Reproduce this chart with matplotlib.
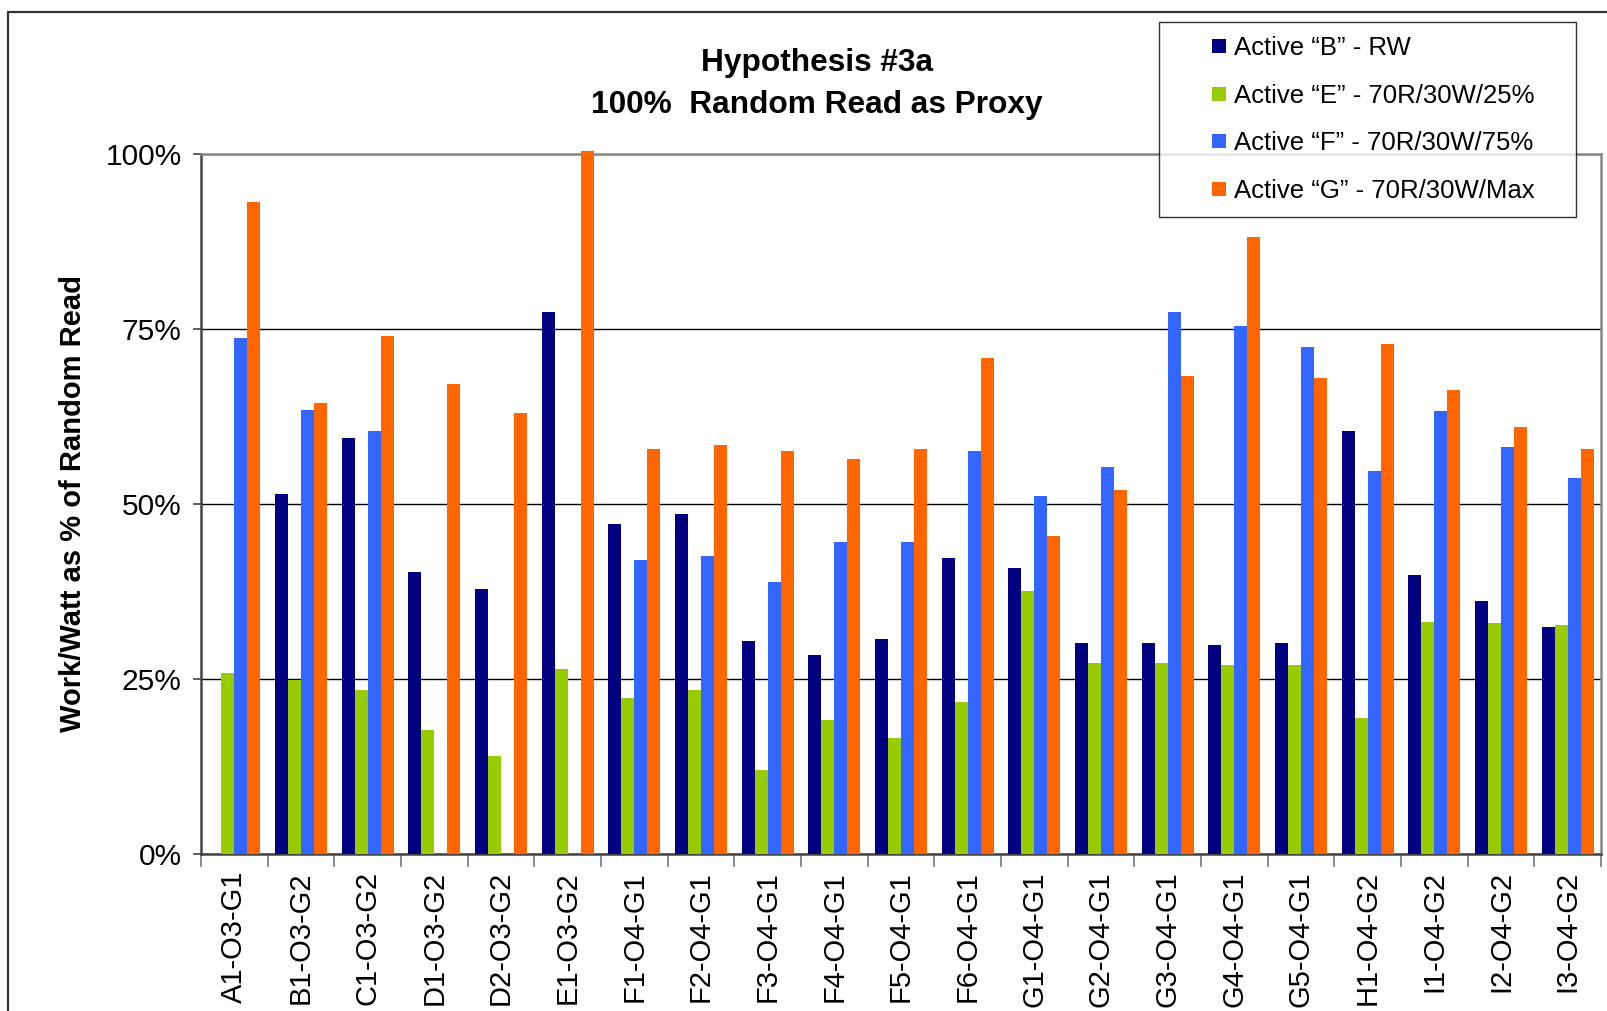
import numpy as np
import matplotlib
matplotlib.use("Agg")
import matplotlib.pyplot as plt
from matplotlib.lines import Line2D
from matplotlib.patches import Rectangle

plt.rcParams['font.family'] = ['Liberation Sans', 'DejaVu Sans']

## data (percent of random read)
labels = ['A1-O3-G1', 'B1-O3-G2', 'C1-O3-G2', 'D1-O3-G2', 'D2-O3-G2', 'E1-O3-G2',
          'F1-O4-G1', 'F2-O4-G1', 'F3-O4-G1', 'F4-O4-G1', 'F5-O4-G1', 'F6-O4-G1',
          'G1-O4-G1', 'G2-O4-G1', 'G3-O4-G1', 'G4-O4-G1', 'G5-O4-G1', 'H1-O4-G2',
          'I1-O4-G2', 'I2-O4-G2', 'I3-O4-G2']
nan = np.nan
active_b = [nan, 51.4, 59.5, 40.3, 37.8, 77.4, 47.1, 48.6, 30.4, 28.4, 30.7,
            42.3, 40.9, 30.2, 30.2, 29.8, 30.2, 60.4, 39.9, 36.1, 32.4]
active_e = [25.8, 24.9, 23.4, 17.7, 14.0, 26.4, 22.3, 23.4, 12.0, 19.1, 16.6,
            21.7, 37.6, 27.3, 27.3, 27.0, 27.0, 19.4, 33.2, 33.0, 32.7]
active_f = [73.7, 63.5, 60.4, nan, nan, nan, 42.0, 42.6, 38.8, 44.6, 44.6,
            57.6, 51.1, 55.3, 77.4, 75.4, 72.5, 54.7, 63.3, 58.1, 53.7]
active_g = [93.1, 64.4, 74.0, 67.1, 63.0, 100.5, 57.8, 58.4, 57.6, 56.4, 57.8,
            70.8, 45.4, 52.0, 68.3, 88.1, 68.0, 72.9, 66.3, 61.0, 57.8]
series_names = ['Active \u201cB\u201d - RW', 'Active \u201cE\u201d - 70R/30W/25%',
                'Active \u201cF\u201d - 70R/30W/75%', 'Active \u201cG\u201d - 70R/30W/Max']
colors = ['#000080', '#99CC00', '#3366FF', '#FF6600']
yticks = [0, 25, 50, 75, 100]

W, H = 1608, 1011
fig = plt.figure(figsize=(W/100, H/100), dpi=100)
ax = fig.add_axes([201/W, 1-854/H, 1400/W, 700/H])

## outer chart border (cut off at right and bottom)
fig.patches.append(Rectangle((8/W, -0.1), 1.2, 1-12/H+0.1, transform=fig.transFigure,
                             fill=False, edgecolor='#333333', linewidth=1.6))

x = np.arange(len(labels))
bw = 0.195
for k, (vals, c) in enumerate(zip([active_b, active_e, active_f, active_g], colors)):
    ax.bar(x + (k-1.5)*bw, vals, width=bw, color=c, linewidth=0, clip_on=False, zorder=3)

## axes config
ax.set_xlim(-0.5, len(labels)-0.5)
ax.set_ylim(0, 100)
ax.set_yticks(yticks)
ax.set_yticklabels([f'{v}%' for v in yticks], fontsize=21.5)
ax.tick_params(axis='y', direction='out', length=6, width=1.2, color='#444444', pad=8)
ax.set_xticks(x)
ax.set_xticklabels(labels, rotation=90, va='top', fontsize=21)
ax.tick_params(axis='x', which='major', length=0, pad=12.3)
ax.set_xticks(np.arange(-0.5, len(labels)), minor=True)
ax.tick_params(axis='x', which='minor', direction='out', length=9, width=1.2, color='#777777')
ax.grid(True, axis='y', color='black', linewidth=1.0, zorder=1)
for s in ['top', 'right']:
    ax.spines[s].set_color('#888888')
    ax.spines[s].set_linewidth(1.8)
for s in ['left', 'bottom']:
    ax.spines[s].set_color('#444444')
    ax.spines[s].set_linewidth(1.8)

ax.set_ylabel('Work/Watt as % of Random Read', fontsize=21, fontweight='bold')
ax.yaxis.set_label_coords((87-201)/1400, 0.5)

fig.text(817/W, 1-63/H, 'Hypothesis #3a', ha='center', va='center', fontsize=22.8, fontweight='bold')
fig.text(817/W, 1-105/H, '100%  Random Read as Proxy', ha='center', va='center', fontsize=22.8, fontweight='bold')

## legend
handles = [Line2D([], [], linestyle='none', marker='s', markersize=10, markerfacecolor=c,
                  markeredgewidth=0) for c in colors]
leg = fig.legend(handles, series_names, loc='upper left', mode='expand',
                 bbox_to_anchor=(1159/W, 1-23/H, (1576-1159)/W, 0.001), fontsize=18.5,
                 frameon=True, fancybox=False, edgecolor='black', borderpad=0.55,
                 labelspacing=0.92, handlelength=3.6, handletextpad=-1.25, borderaxespad=0)
leg.get_frame().set_linewidth(1.0)
leg.set_zorder(10)

plt.savefig('out.png', dpi=100)
